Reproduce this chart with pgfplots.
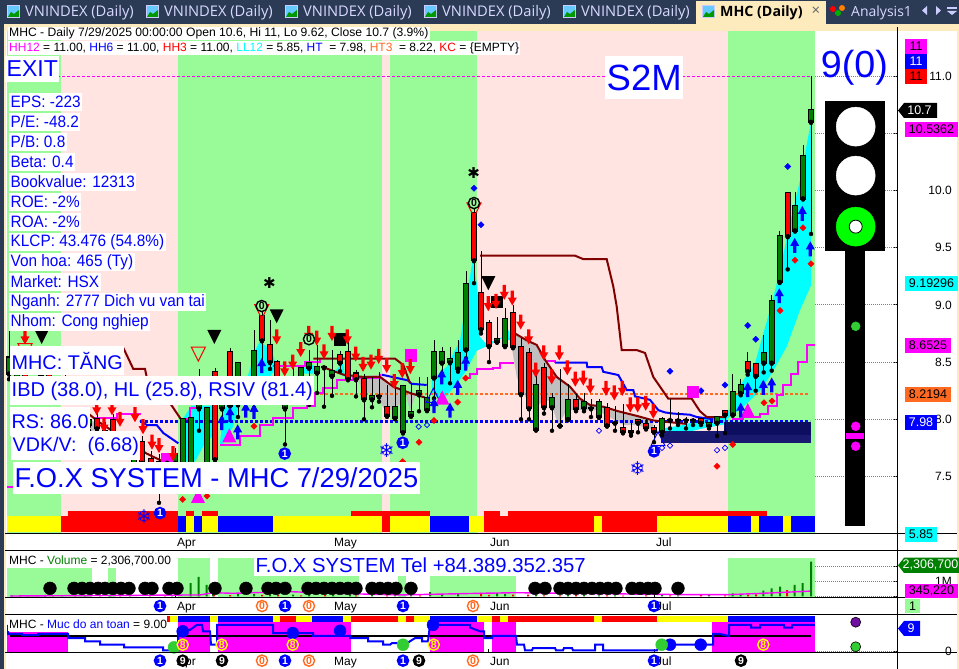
\documentclass[border=0pt]{standalone}
\usepackage{fontspec}
\setmainfont{Liberation Sans}
\newfontfamily\symf{DejaVu Sans}
\newfontfamily\tabf{Open Sans}
\usepackage{graphicx}
\usepackage{pgfplots}
\usepackage{pgfplotstable}
\pgfplotsset{compat=1.18}

\definecolor{cyan}{RGB}{0,255,255}
\definecolor{magenta}{RGB}{255,0,255}
\definecolor{yellow}{RGB}{255,255,0}
\definecolor{pgreen}{RGB}{152,251,152}
\definecolor{ppink}{RGB}{255,228,225}
\definecolor{tabnavy}{RGB}{43,58,85}
\definecolor{cream}{RGB}{253,235,190}
\definecolor{hotorange}{RGB}{255,106,32}
\definecolor{mar}{RGB}{128,0,0}
\definecolor{dnavy}{RGB}{25,25,112}
\definecolor{dnavy2}{RGB}{14,14,96}
\definecolor{cgreen}{RGB}{0,128,0}
\definecolor{lgreen}{RGB}{50,205,50}
\definecolor{purp}{RGB}{112,16,160}
\definecolor{graya}{RGB}{192,192,192}

\newcommand\fs[1]{\fontsize{#1}{#1}\selectfont}

% chart arrows and triangles
\pgfdeclareplotmark{adown}{%
  \pgfpathmoveto{\pgfqpoint{-1.6pt}{7.5pt}}\pgfpathlineto{\pgfqpoint{1.6pt}{7.5pt}}%
  \pgfpathlineto{\pgfqpoint{1.6pt}{0.5pt}}\pgfpathlineto{\pgfqpoint{4.5pt}{0.5pt}}%
  \pgfpathlineto{\pgfqpoint{0pt}{-7.5pt}}\pgfpathlineto{\pgfqpoint{-4.5pt}{0.5pt}}%
  \pgfpathlineto{\pgfqpoint{-1.6pt}{0.5pt}}\pgfpathclose\pgfusepathqfill}
\pgfdeclareplotmark{aup}{%
  \pgfpathmoveto{\pgfqpoint{-1.6pt}{-7.5pt}}\pgfpathlineto{\pgfqpoint{1.6pt}{-7.5pt}}%
  \pgfpathlineto{\pgfqpoint{1.6pt}{-0.5pt}}\pgfpathlineto{\pgfqpoint{4.5pt}{-0.5pt}}%
  \pgfpathlineto{\pgfqpoint{0pt}{7.5pt}}\pgfpathlineto{\pgfqpoint{-4.5pt}{-0.5pt}}%
  \pgfpathlineto{\pgfqpoint{-1.6pt}{-0.5pt}}\pgfpathclose\pgfusepathqfill}
\pgfdeclareplotmark{tdn}{%
  \pgfpathmoveto{\pgfqpoint{-7pt}{7pt}}\pgfpathlineto{\pgfqpoint{7pt}{7pt}}%
  \pgfpathlineto{\pgfqpoint{0pt}{-7pt}}\pgfpathclose\pgfusepathqfill}
\pgfdeclareplotmark{tdno}{%
  \pgfpathmoveto{\pgfqpoint{-7pt}{7pt}}\pgfpathlineto{\pgfqpoint{7pt}{7pt}}%
  \pgfpathlineto{\pgfqpoint{0pt}{-7pt}}\pgfpathclose\pgfusepathqstroke}
\pgfdeclareplotmark{tup}{%
  \pgfpathmoveto{\pgfqpoint{-7pt}{-7pt}}\pgfpathlineto{\pgfqpoint{7pt}{-7pt}}%
  \pgfpathlineto{\pgfqpoint{0pt}{7pt}}\pgfpathclose\pgfusepathqfill}
\pgfdeclareplotmark{tupo}{%
  \pgfpathmoveto{\pgfqpoint{-7pt}{-7pt}}\pgfpathlineto{\pgfqpoint{7pt}{-7pt}}%
  \pgfpathlineto{\pgfqpoint{0pt}{7pt}}\pgfpathclose\pgfusepathqstroke}

% x is the bar's place on the time axis, o h l c are prices
\pgfplotstableread{
x o h l c
9 8.40 8.77 8.35 8.54
17 8.30 8.50 8.20 8.42
41 8.35 8.52 8.28 8.38
65 8.32 8.40 8.20 8.36
89 7.95 8.10 7.90 7.99
105 7.88 7.98 7.85 7.90
134 7.60 7.68 7.58 7.65
175 7.62 7.75 7.60 7.70
182.7 7.60 8.00 7.55 8.00
191 7.60 8.01 7.55 8.01
199 8.095 8.44 7.90 8.125
207 7.60 8.10 7.55 8.10
222 8.095 8.30 8.00 8.125
238 8.13 8.49 8.02 8.49
246 8.20 8.36 8.10 8.30
254 8.15 8.78 8.10 8.60
285 8.095 8.28 7.78 8.125
293 8.25 8.45 8.20 8.30
301 8.30 8.46 8.20 8.445
309 8.45 8.605 8.125 8.49
317 8.407 8.65 8.23 8.454
324 8.454 8.46 8.11 8.454
332 8.38 8.605 8.205 8.425
372 8.175 8.37 8.105 8.20
379 8.20 8.416 8.154 8.20
395 8.01 8.31 8.01 8.105
403 7.885 8.29 7.885 8.29
411 8.03 8.315 8.03 8.06
419 8.218 8.37 8.07 8.245
427 8.08 8.367 8.08 8.19
434 8.364 8.69 8.183 8.585
442 8.495 8.63 8.40 8.585
450 8.498 8.635 8.315 8.524
458 8.442 8.69 8.416 8.576
466 8.61 9.30 8.533 9.18
497 8.68 8.89 8.67 8.70
505 8.64 8.97 8.64 8.88
536 7.91 8.40 7.91 8.30
552 8.105 8.23 7.90 8.19
560 7.945 8.44 7.945 7.945
568 8.00 8.31 8.00 8.17
584 8.096 8.23 8.07 8.154
591 8.096 8.18 8.02 8.096
599 8.02 8.18 8.02 8.15
615 7.97 8.12 7.90 7.97
662 7.89 8.02 7.86 8.00
670 7.994 8.18 7.92 7.994
678 7.99 8.06 7.95 7.99
686 7.99 8.02 7.92 7.99
693 7.99 8.01 7.95 7.99
709 7.94 7.98 7.92 7.97
717 7.97 8.03 7.855 8.02
732.7 8.04 8.395 8.04 8.235
740.7 8.23 8.35 8.21 8.30
763.7 8.495 8.74 8.41 8.58
771.7 8.495 9.09 8.425 9.03
779.7 9.20 9.65 9.20 9.60
795 9.65 9.986 9.65 9.86
803 9.93 10.40 9.93 10.30
811 10.60 11.00 9.62 10.70
}\upbars

\pgfplotstableread{
x o h l c
25 8.45 8.60 8.25 8.32
49 8.42 8.50 8.30 8.34
97 8.00 8.08 7.85 7.92
113 7.99 8.05 7.80 7.86
142 7.80 7.85 7.60 7.62
151 7.65 7.72 7.58 7.60
159 7.63 7.70 7.27 7.60
167 7.65 7.68 7.60 7.62
215 8.41 8.45 7.60 7.65
230 8.59 8.62 8.05 8.12
262 8.90 8.95 8.48 8.69
270 8.65 8.87 8.44 8.50
277 8.50 8.52 8.30 8.36
340 8.56 8.60 8.42 8.495
348 8.585 8.74 8.35 8.35
356 8.40 8.43 8.20 8.35
364 8.35 8.40 8.00 8.175
387 8.105 8.30 8.03 8.03
474 9.80 9.85 9.19 9.39
481 9.107 9.47 8.75 8.787
489 8.84 8.87 8.50 8.64
513 8.93 9.00 8.63 8.63
521 8.63 8.71 8.00 8.22
529 8.58 8.62 8.00 8.096
544 8.45 8.49 8.05 8.105
576 8.17 8.22 8.07 8.09
607 8.096 8.14 7.945 7.945
623 7.92 8.13 7.886 7.886
631 7.90 7.965 7.857 7.886
638 7.99 8.00 7.886 7.97
646 7.956 8.00 7.92 7.92
654 7.92 7.95 7.80 7.89
701 8.00 8.02 7.95 7.97
725 8.07 8.08 7.88 8.04
747.7 8.50 8.585 8.39 8.42
755.7 8.48 8.48 8.25 8.38
787.7 9.98 9.98 9.31 9.60
}\downbars

\pgfplotstableread{
x v
12 60000
28 50000
45 90000
62 40000
85 70000
110 60000
130 50000
172 80000
190.7 870000
198.7 1290000
206.7 760000
213 550000
238 180000
254 150000
270 130000
293 120000
309 150000
333 110000
350 130000
372 150000
395 180000
411 100000
430 280000
442 170000
458 190000
497 210000
505 150000
536 120000
568 90000
584 80000
599 70000
615 60000
662 90000
678 70000
709 110000
732.7 200000
740.7 130000
763.3 380000
771.7 530000
780 640000
794.7 760000
802.7 870000
811 2306700
}\volup

\pgfplotstableread{
x v
20 70000
37 50000
53 60000
75 50000
100 70000
120 40000
150 60000
165 40000
214 90000
230 80000
262 100000
278 90000
301 70000
325 80000
356 60000
387 70000
420 60000
481 230000
489 100000
513 120000
528 110000
544 70000
560 60000
576 110000
607 70000
623 50000
646 70000
670 60000
701 100000
725 60000
748 120000
756 130000
787 420000
}\voldown

\newcommand\zone[5]{\addplot[draw=none,fill=#1,forget plot] coordinates {(#2,#4)(#3,#4)(#3,#5)(#2,#5)} --cycle;}
\newcommand\area[2]{\addplot[draw=none,fill=#1,forget plot] coordinates {#2} --cycle;}
\newcommand\pts[2]{\addplot[only marks,forget plot,#1] coordinates {#2};}
\newcommand\numbered[5]{%
  \addplot[only marks,forget plot,mark=*,mark size=5.6pt,mark options={fill=#1,draw=#2,line width=1.4pt}] coordinates {#5};
  \addplot[only marks,forget plot,mark=text,text mark={#4},text mark as node=true,
    text mark style={font=\fs{10.5}\bfseries,text=#3,inner sep=0pt}] coordinates {#5};}
\newcommand\candles[2]{%
  \addplot[only marks,mark=none,forget plot,error bars/.cd,y dir=both,y explicit,error mark=none,
    error bar style={draw=black,line width=1pt}]
    table[x=x,y=l,y error plus expr=\thisrow{h}-\thisrow{l},y error minus expr=0] {#1};
  \addplot[only marks,mark=none,forget plot,error bars/.cd,y dir=both,y explicit,error mark=none,
    error bar style={draw=black,line width=5.6pt}]
    table[x=x,y expr={min(\thisrow{o},\thisrow{c})-0.009},y error plus expr={abs(\thisrow{c}-\thisrow{o})+0.018},y error minus expr=0] {#1};
  \addplot[only marks,mark=none,forget plot,error bars/.cd,y dir=both,y explicit,error mark=none,
    error bar style={draw=#2,line width=3.6pt}]
    table[x=x,y expr={min(\thisrow{o},\thisrow{c})},y error plus expr={abs(\thisrow{c}-\thisrow{o})},y error minus expr=0] {#1};}

\pgfplotsset{pane/.style={
  scale only axis,width=890pt,xmin=7,xmax=897,
  axis x line*=bottom,axis y line*=right,
  axis line style={line width=1pt,-},
  tick style={black,line width=0.8pt},major tick length=4pt,
  xtick={175,332,488,654},xticklabels={Apr,May,Jun,Jul},
  xticklabel style={font=\fs{12},anchor=north west,inner sep=0pt,xshift=2pt,yshift=-4pt},
  yticklabel style={font=\fs{12},anchor=east,inner sep=0pt,xshift=55pt},
  clip=false,unbounded coords=jump},
  dia/.style={mark=square*,mark size=2.2pt,mark options={rotate=45}},
  diao/.style={mark=square,mark size=1.9pt,mark options={rotate=45,line width=.7pt}}}

% white label with blue text, picture pixels
\newcommand\tb[5][white]{\node[anchor=west,fill=#1,text=blue,inner xsep=1.5pt,inner ysep=0pt,minimum height=#4pt,font=\fs{#5}] at (#2) {#3};}
\newcommand\rb[7]{\fill[#5] (#1,#2) rectangle (#3,#4);\node[text=#6,font=\fs{12.5},inner sep=0pt] at ({(#1+#3)/2},{(#2+#4)/2}) {#7};}
\newcommand\rba[7]{\fill[#5] (#1,{(#2+#4)/2}) -- (#1+6,#2) -- (#3,#2) -- (#3,#4) -- (#1+6,#4) -- cycle;\node[text=#6,font=\fs{12.5},inner sep=0pt] at ({(#1+#3)/2+2},{(#2+#4)/2}) {#7};}
\newcommand\tabicon[1]{\fill[white!80!blue] (#1,5) rectangle +(13,13);\fill[blue!35!cyan!60] (#1+1,6) rectangle +(11,11);\fill[green!60!black] (#1+1,17) -- (#1+4,12) -- (#1+7,14) -- (#1+12,10) -- (#1+12,17) -- cycle;}

\begin{document}
\begin{tikzpicture}
\useasboundingbox (0,0) rectangle (959pt,669pt);
\begin{scope}[x=1pt,y=-1pt,shift={(0pt,669pt)}]
  \fill[tabnavy] (0,0) rectangle (959,669);
  \fill[cream] (4,24) rectangle (959,669);
  \fill[white] (6,31) rectangle (957,669);
\end{scope}

%%% price pane
\begin{axis}[pane,at={(7pt,135pt)},anchor=south west,height=503pt,
  ymin=6.9974,ymax=11.394,
  ytick={7.5,8,8.5,9,9.5,10,10.5,11},
  yticklabels={7.5,8.0,8.5,9.0,9.5,10.0,10.5,11.0}]
  \addplot[forget plot,gray,line width=0.8pt,dash pattern=on 1pt off 1pt] coordinates
    {(815,7.5)(897,7.5)(897,nan)(815,8)(897,8)(897,nan)(815,8.5)(897,8.5)(897,nan)(815,9)(897,9)(897,nan)
     (815,9.5)(897,9.5)(897,nan)(815,10)(897,10)(897,nan)(815,10.5)(897,10.5)(897,nan)(815,11)(897,11)};
  % trend background
  \zone{pgreen}{7}{61}{6.9974}{11.394}
  \zone{ppink}{61}{178}{6.9974}{11.394}
  \zone{pgreen}{178}{382}{6.9974}{11.394}
  \zone{ppink}{382}{390}{6.9974}{11.394}
  \zone{pgreen}{390}{477}{6.9974}{11.394}
  \zone{ppink}{477}{728}{6.9974}{11.394}
  \zone{pgreen}{728}{815}{6.9974}{11.394}
  % ribbon, lower row
  \zone{yellow}{7}{61}{7.015}{7.155}
  \zone{red}{61}{178}{7.015}{7.155}
  \zone{blue}{178}{186}{7.015}{7.155}
  \zone{yellow}{186}{194}{7.015}{7.155}
  \zone{blue}{194}{202}{7.015}{7.155}
  \zone{yellow}{202}{218}{7.015}{7.155}
  \zone{blue}{218}{273}{7.015}{7.155}
  \zone{yellow}{273}{382}{7.015}{7.155}
  \zone{red}{382}{390}{7.015}{7.155}
  \zone{yellow}{390}{430}{7.015}{7.155}
  \zone{blue}{430}{469}{7.015}{7.155}
  \zone{yellow}{469}{484}{7.015}{7.155}
  \zone{red}{484}{594}{7.015}{7.155}
  \zone{yellow}{594}{602}{7.015}{7.155}
  \zone{red}{602}{657}{7.015}{7.155}
  \zone{yellow}{657}{728}{7.015}{7.155}
  \zone{blue}{728}{751}{7.015}{7.155}
  \zone{yellow}{751}{759}{7.015}{7.155}
  \zone{blue}{759}{783}{7.015}{7.155}
  \zone{yellow}{783}{791}{7.015}{7.155}
  \zone{blue}{791}{815}{7.015}{7.155}
  % ribbon, upper row
  \zone{red}{68}{178}{7.155}{7.198}
  \zone{red}{186}{194}{7.155}{7.198}
  \zone{red}{202}{218}{7.155}{7.198}
  \zone{red}{351}{430}{7.155}{7.198}
  \zone{red}{484}{500}{7.155}{7.198}
  \zone{red}{508}{767}{7.155}{7.198}
  % cyan clouds
  \area{cyan}{(723.3,7.99)(732.7,8.14)(743.3,8.34)(755,8.49)(771.7,9.01)(780,9.30)(788.3,9.65)(800,10.09)(811,10.60)(811,9.17)(800,8.955)(786.7,8.635)(771.7,8.40)(760,8.25)(743.3,8.11)(725,7.99)}
  \area{cyan}{(663,7.92)(683,7.95)(703,8.0)(727,8.02)(727,7.96)(703,7.92)(683,7.88)(663,7.86)}
  \area{cyan}{(431.7,8.34)(446.7,8.46)(460,8.69)(468.3,9.16)(472.7,9.39)(477.3,9.16)(480,8.72)(486,8.66)(503,8.72)(509,8.78)(510,8.69)(501.7,8.71)(490,8.65)(476.7,8.6)(470,8.49)(466.7,8.43)(456.7,8.31)(443.3,8.17)(432.3,8.21)}
  \area{cyan}{(181.7,7.99)(191.7,8.12)(213,8.12)(215,7.88)(203,7.76)(195,7.63)(181.7,7.63)}
  \area{cyan}{(220,7.79)(223.3,8.08)(248.3,8.39)(256.7,8.63)(260,8.68)(271.7,8.60)(276.7,8.46)(270,8.37)(248.3,8.28)(240,8.14)(233,7.935)(221.7,7.775)}
  \area{cyan}{(300,8.40)(308,8.49)(316.7,8.46)(313,8.40)}
  \area{cyan}{(335,8.42)(343,8.50)(345,8.37)}
  \area{cyan}{(406.7,8.20)(411.7,8.26)(410,8.08)}
  % gray clouds
  \area{graya}{(511.7,8.635)(515,8.75)(526.7,8.69)(536.7,8.65)(545,8.52)(556.7,8.37)(570,8.285)(580,8.18)(590,8.125)(603.3,8.11)(618.3,8.07)(636.7,8.03)(653.3,7.99)(653.3,7.91)(636.7,7.95)(623.3,7.95)(603.3,8.05)(596.7,8.08)(580,8.08)(566.7,8.08)(558.3,7.95)(550,8.17)(540,8.14)(535,8.08)(525,8.20)(516.7,8.37)}
  \area{graya}{(356.7,8.37)(380,8.39)(393.3,8.285)(410,8.23)(416.7,8.23)(410,8.08)(406.7,8.20)(393.3,8.08)(383.3,8.10)(376.7,8.23)(363.3,8.23)}
  \area{graya}{(88.3,8.01)(96.7,7.96)(96.7,7.90)(88.3,7.90)}
  % level lines
  \addplot[forget plot,magenta,line width=1pt,dash pattern=on 3pt off 2pt] coordinates {(57,11)(811,11)};
  \addplot[forget plot,hotorange,line width=2.2pt,dash pattern=on 3pt off 2pt] coordinates {(315,8.22)(808,8.22)};
  \addplot[forget plot,blue,line width=2.2pt,dash pattern=on 3pt off 2pt] coordinates {(140,7.98)(810,7.98)};
  % magenta stair lines
  \addplot[forget plot,magenta,line width=2pt,const plot] coordinates {(220,7.775)(240,7.85)(260,7.95)(273,8.01)(293,8.095)(306.7,8.12)(315,8.226)(323,8.27)(336.7,8.34)(353.3,8.36)(380,8.40)};
  \addplot[forget plot,magenta,line width=2pt,const plot] coordinates {(273.3,8.465)(290,8.47)(305,8.50)(320,8.53)};
  \addplot[forget plot,magenta,line width=2pt,const plot] coordinates {(465,8.36)(470,8.40)(476.7,8.44)(493.3,8.445)(500,8.495)(513.3,8.50)};
  \addplot[forget plot,magenta,line width=2pt,const plot] coordinates {(546.7,8.51)(555,8.495)};
  \addplot[forget plot,magenta,line width=2pt,const plot] coordinates {(731.7,8.0)(743,8.02)(760,8.05)(768,8.12)(776.7,8.21)(783.3,8.30)(790.7,8.395)(798.3,8.50)(806.7,8.65)(815,8.65)};
  \addplot[forget plot,magenta,line width=2pt,const plot] coordinates {(93.3,8.01)(116.7,8.05)(140,8.04)};
  \addplot[forget plot,magenta,line width=2pt,const plot] coordinates {(182,8.0)(190,8.1)(200,8.2)};
  \addplot[forget plot,magenta,line width=2pt] coordinates {(7,7.41)(13,7.41)};
  % blue step line
  \addplot[forget plot,blue,line width=2pt] coordinates {(555,8.495)(586.7,8.495)(587.3,8.455)(601.7,8.455)(603.3,8.415)(618.3,8.387)(626.7,8.256)(633.3,8.256)(635,8.20)(650,8.17)(658.3,8.08)(665,8.06)(673.3,8.05)(690,8.04)(696.7,8.02)(713.3,8.0)};
  \addplot[forget plot,blue,line width=2pt] coordinates {(140,7.99)(146.7,7.95)(156.7,7.95)(163.3,7.88)(171.7,7.83)(178.3,7.79)};
  \addplot[forget plot,blue,line width=2pt] coordinates {(381.7,8.39)(408,8.34)(411.7,8.31)(426.7,8.30)};
  % maroon lines
  \addplot[forget plot,mar,line width=2pt] coordinates {(480,9.43)(575,9.43)(583.3,9.40)(606.7,9.40)(613.3,9.16)(616.7,8.985)(621.7,8.605)(636.7,8.605)(645,8.58)(653.3,8.37)(668.3,8.18)(691.7,8.18)(700,8.07)(706.7,8.02)(725,8.02)};
  \addplot[forget plot,mar,line width=2pt] coordinates {(515,8.75)(526.7,8.69)(536.7,8.65)(545,8.52)(556.7,8.37)(570,8.285)(580,8.18)(590,8.125)(603.3,8.11)(618.3,8.07)(636.7,8.03)(653.3,7.99)(686,7.96)};
  \addplot[forget plot,mar,line width=2pt] coordinates {(313.3,8.53)(395,8.53)(403.3,8.475)(410,8.315)};
  \addplot[forget plot,mar,line width=2pt] coordinates {(321.7,8.46)(343.3,8.39)(363.3,8.37)(380,8.37)(393.3,8.285)(410,8.23)(425,8.19)};
  \addplot[forget plot,mar,line width=2pt] coordinates {(123,8.63)(133.3,8.44)(145,8.44)(146.7,8.37)(171.7,8.12)(181.7,7.99)};
  \addplot[forget plot,mar,line width=2pt] coordinates {(88.3,8.05)(98.3,7.98)(146.7,7.70)(163.3,7.63)};
  % small dots
  \pts{diao,blue}{(418.7,7.935)(427,7.95)(599,7.90)(662,7.75)(670,7.77)(717,7.73)(725,7.75)}
  \pts{mark=tupo,blue,mark options={line width=1pt}}{(433.3,8.21)(658,7.83)}
  % base boxes
  \zone{dnavy}{660.7}{811}{7.79}{7.895}
  \zone{dnavy2}{724}{811}{7.86}{7.98}
  \pts{dia,red}{(732.7,7.78)(717,7.59)(764,8.145)(772,8.16)(780,8.95)(795,9.39)(803,9.675)(811,9.36)(254,7.94)(434,7.99)(457.7,8.15)(465.7,8.36)(419,7.80)(402.7,7.63)(182.7,7.30)(207,7.33)}
  \pts{dia,blue}{(787.7,10.21)(747.7,8.82)(755.7,8.70)(725,8.30)(701,8.25)(670,8.42)(481,9.70)(474,10.02)}
  \pts{mark=tup,magenta}{(229.3,7.86)(442.3,8.19)(747.7,8.08)(198,7.33)}
  \pts{mark=square*,mark size=5.7pt,magenta}{(410.7,8.56)(692.7,8.24)(167,7.65)}
  \pts{mark=tdno,red,mark options={line width=1pt}}{(198.3,8.57)(261.7,8.94)(474,9.83)(25,8.60)}
  \pts{mark=square*,mark size=5.6pt,black}{(340,8.70)(496.7,9.03)}
  % candles
  \candles{\upbars}{cgreen}
  \candles{\downbars}{red}
  % signals
  \pts{mark=adown,red}{(276.7,8.72)(284.7,8.44)(292.7,8.50)(300.7,8.61)(308.7,8.75)(316.7,8.71)(324,8.59)(332,8.75)(347.3,8.72)(355.7,8.57)(363,8.48)(371,8.50)(378.7,8.55)(386.7,8.47)(394.3,8.33)(402.3,8.425)(410.3,8.46)(25,8.72)(96.7,8.10)(112,8.10)(104,7.95)(120,8.0)(135,8.04)(143,7.935)(152,7.80)(159,7.77)(173,7.70)(488.3,9.01)(496,9.03)(504.3,9.11)(512.3,9.06)(520.7,8.85)(528.7,8.72)(543.7,8.58)(559.3,8.58)(535.7,8.43)(551.7,8.37)(567.3,8.45)(575.3,8.35)(583.3,8.36)(590.3,8.29)(606,8.27)(614.3,8.23)(622.3,8.27)(630.3,8.125)(637.7,8.125)(645.7,8.14)(653.3,8.07)}
  \pts{mark=aup,blue}{(221.7,7.97)(230,8.04)(237.7,7.89)(245.7,8.08)(254,8.07)(261.7,8.47)(441.7,8.37)(457.7,8.28)(465.7,8.49)(434,8.12)(450,8.08)(740.7,8.08)(747.7,8.26)(763.3,8.28)(771.7,8.30)(779.3,9.08)(794.7,9.52)(802.3,9.80)(810.3,9.49)}
  \pts{mark=tdn,black}{(214.3,8.72)(276.7,8.90)(488.3,9.19)(41.7,8.72)}
  \numbered{pgreen}{black}{black}{0}{(261.7,8.99)(309,8.70)(474,9.89)}
  \numbered{blue}{blue}{white}{1}{(284.7,7.70)(402.7,7.795)(654,7.72)(160,7.18)}
  \addplot[only marks,forget plot,mark=text,text mark={\symf ❄},text mark as node=true,text mark style={font=\fs{19},text=blue,inner sep=0pt}] coordinates {(386.7,7.725)(637.7,7.57)(144,7.15)};
  \addplot[only marks,forget plot,mark=text,text mark={\symf ✱},text mark as node=true,text mark style={font=\fs{15},text=black,inner sep=0pt}] coordinates {(269.3,9.195)(473.7,10.15)};
  % traffic light
  \zone{black}{825}{885}{9.474}{10.782}
  \zone{black}{845}{865}{7.07}{9.474}
  \pts{mark=*,mark size=19.5pt,white,mark options={draw=none}}{(855.7,10.558)(855.7,10.13)}
  \pts{mark=*,mark size=19.5pt,green,mark options={draw=none}}{(855.7,9.684)}
  \pts{mark=*,mark size=6.5pt,mark options={fill=white,draw=black,line width=.8pt}}{(855.7,9.684)}
  \pts{mark=*,mark size=4.5pt,lgreen,mark options={draw=none}}{(855.7,8.813)}
  \pts{mark=*,mark size=4.5pt,magenta,mark options={draw=none}}{(855.7,7.939)(855.7,7.765)}
  \zone{magenta}{846}{864}{7.828}{7.88}
\end{axis}

%%% volume pane
\begin{axis}[pane,at={(7pt,71pt)},anchor=south west,height=46pt,
  ymin=-113000,ymax=2953000,scaled y ticks=false,
  ytick={0,1000000,2000000},yticklabels={,1M,}]
  \addplot[forget plot,gray,line width=0.8pt,dash pattern=on 1pt off 1pt] coordinates {(815,1000000)(897,1000000)(897,nan)(815,2000000)(897,2000000)(897,nan)(815,0)(897,0)};
  \zone{pgreen}{7}{92}{-113000}{1887000}
  \zone{pgreen}{108}{116}{-113000}{1887000}
  \zone{pgreen}{178}{210}{-113000}{2553000}
  \zone{pgreen}{218}{359}{-113000}{2553000}
  \zone{pgreen}{398}{406}{-113000}{1353000}
  \zone{pgreen}{430}{516}{-113000}{2553000}
  \zone{pgreen}{728}{815}{-113000}{2553000}
  \addplot[forget plot,ybar,bar shift=0pt,bar width=2pt,draw=none,fill=cgreen] table[x=x,y=v] {\volup};
  \addplot[forget plot,ybar,bar shift=0pt,bar width=2pt,draw=none,fill=red] table[x=x,y=v] {\voldown};
  \addplot[forget plot,magenta,line width=1.4pt] coordinates {(10,20000)(200,90000)(213,240000)(233,200000)(290,310000)(333,200000)(400,90000)(480,200000)(516,240000)(687,110000)(728,110000)(763,200000)(810,345220)};
  \pts{mark=*,mark size=6.4pt,black}{(50,533000)(74,533000)(82,533000)(90,533000)(98,533000)(105,533000)(113,533000)(121,533000)(129,533000)(145,533000)(152,533000)(169,533000)(177,533000)(215,533000)(246,533000)(268,533000)(276,533000)(285,533000)(308,533000)(316,533000)(324,533000)(332,533000)(340,533000)(348,533000)(356,533000)(372,533000)(380,533000)(388,533000)(396,533000)(411,533000)(535,533000)(545,533000)(560,533000)(568,533000)(576,533000)(584,533000)(592,533000)(600,533000)(608,533000)(616,533000)(632,533000)(640,533000)(648,533000)(655,533000)(678,533000)}
  \numbered{blue}{blue}{white}{1}{(160,-647000)(285,-647000)(403,-647000)(654,-647000)}
  \numbered{white}{hotorange}{hotorange}{0}{(262,-647000)(309,-647000)(473,-647000)}
\end{axis}

%%% safety level pane
\begin{axis}[pane,at={(7pt,16pt)},anchor=south west,height=37pt,
  ymin=-0.54,ymax=12,ytick={0},yticklabels={0}]
  \addplot[forget plot,gray,line width=0.8pt,dash pattern=on 1pt off 1pt] coordinates {(815,0)(897,0)};
  \zone{magenta}{7}{68}{-0.54}{6.63}
  \zone{magenta}{178}{210}{-0.54}{10}
  \zone{magenta}{218}{351}{-0.54}{10}
  \zone{magenta}{430}{484}{-0.54}{10}
  \zone{magenta}{492}{516}{-0.54}{10}
  \zone{magenta}{712}{815}{-0.54}{10}
  \zone{red}{167}{170}{10}{12}
  \zone{yellow}{170}{178}{10}{12}
  \zone{blue}{178}{210}{10}{12}
  \zone{yellow}{210}{218}{10}{12}
  \zone{blue}{218}{273}{10}{12}
  \zone{yellow}{273}{280}{10}{12}
  \zone{red}{280}{296}{10}{12}
  \zone{yellow}{296}{312}{10}{12}
  \zone{blue}{312}{343}{10}{12}
  \zone{yellow}{343}{351}{10}{12}
  \zone{red}{351}{398}{10}{12}
  \zone{yellow}{398}{406}{10}{12}
  \zone{red}{406}{414}{10}{12}
  \zone{yellow}{414}{430}{10}{12}
  \zone{blue}{430}{477}{10}{12}
  \zone{yellow}{477}{492}{10}{12}
  \zone{red}{492}{500}{10}{12}
  \zone{yellow}{500}{508}{10}{12}
  \zone{red}{508}{594}{10}{12}
  \zone{yellow}{594}{602}{10}{12}
  \zone{red}{602}{657}{10}{12}
  \zone{yellow}{657}{728}{10}{12}
  \zone{blue}{728}{815}{10}{12}
  \addplot[forget plot,black,line width=1.6pt] coordinates {(10,5.29)(811,5.29)};
  \addplot[forget plot,blue,line width=2pt] coordinates {(8,9)(8,5.9)(22,5.9)(22,5.5)(38,5.5)(38,5.9)(68,5.9)(68,4.5)(85,4.5)(85,3.4)(100,3.4)(100,2.27)(124,2.27)(124,1.37)(163,1.37)(163,.36)(178,.36)(178,7.3)(190,7.3)(197,9)(202,9)(203,6.8)(210,6.8)(211,2.27)(217,2.27)(217,9)(273,9)(273,6.2)(313,6.2)(313,5.3)(350,5.3)(350,4.5)(368,4.5)(368,3.4)(383,3.4)(383,2.27)(390,2.27)(392,2.8)(407,2.8)(415,4.5)(422,4.5)(422,3.4)(428,3.4)(430,9)(470,9)(470,8.1)(480,6.8)(484,6.8)(484,4.5)(492,4.5)(492,5.3)(516,5.3)(517,2.27)(524,2.27)(525,.36)(532,.36)(533,1.15)(555,1.15)(556,.36)(563,.36)(564,1.15)(572,1.15)(573,.36)(595,.36)(595,2.27)(603,2.27)(603,.36)(657,.36)(660,2.27)(713,2.27)(713,5.9)(720,5.9)(728,5.3)(729,5.3)(729,9)(751,9)(751,8.1)(760,8.1)(760,9)(784,9)(784,8.1)(792,8.1)(792,9)(815,9)};
  \pts{mark=*,mark size=6pt,blue}{(182.7,6.8)(292.7,6.2)(340,7)(433,9)(670,2.27)(700.7,2.27)}
  \pts{mark=*,mark size=6pt,lgreen}{(174,1.37)(403,2.27)(661.7,2.27)}
  \numbered{magenta}{yellow}{yellow}{8}{(182.7,2.27)(221.7,2.27)(292.7,2.27)(433.7,2.27)(763.3,2.27)}
  \pts{mark=*,mark size=5pt,mark options={fill=purp,draw=black,line width=.6pt}}{(855.7,9.9)}
  \pts{mark=*,mark size=5pt,mark options={fill=lgreen,draw=black,line width=.6pt}}{(855.7,1.58)}
  \numbered{blue}{blue}{white}{1}{(160,-3.13)(285,-3.13)(403,-3.13)(654,-3.13)}
  \numbered{black}{black}{white}{9}{(182.7,-3.13)(222,-3.13)(419,-3.13)(741,-3.13)}
  \numbered{white}{hotorange}{hotorange}{0}{(262,-3.13)(309,-3.13)(473,-3.13)}
\end{axis}

%%% window chrome and labels
\begin{scope}[x=1pt,y=-1pt,shift={(0pt,669pt)}]
  \foreach \yy in {534,551,598,615,653} \draw[black,line width=1pt] (5,\yy) -- (957,\yy);
  \draw[black,line width=1pt] (897,27) -- (897,669);
  % tabs
  \foreach \xx in {7,146,285,424,563} {
    \tabicon{\xx}
    \node[anchor=west,text=white!85!blue,font=\tabf\fs{14.7},inner sep=0pt] at (\xx+18,12.5) {VNINDEX (Daily)};
  }
  \fill[cream] (696,1) rectangle (826,26);
  \tabicon{702}
  \node[anchor=west,text=black,font=\tabf\fs{14.2}\bfseries,inner sep=0pt] at (720,12.5) {MHC (Daily)};
  \node[text=black!60,font=\tabf\fs{15}] at (816,11.5) {×};
  \fill[red] (833,9) circle (3pt);\fill[green!70!black] (838,13) circle (3pt);\fill[orange] (842,8) circle (3pt);
  \node[anchor=west,text=white!85!blue,font=\tabf\fs{14},inner sep=0pt] at (851,12.5) {Analysis1};
  \fill[white!80!blue] (922,10.5) -- (927,6) -- (927,15) -- cycle;
  \fill[white!80!blue] (941,10.5) -- (936,6) -- (936,15) -- cycle;
  \fill[white!80!blue] (947,7) rectangle (957,9);\fill[white!80!blue] (947,11) -- (957,11) -- (952,15) -- cycle;
  % legend lines
  \fill[white] (8,27) rectangle (430,40.5);
  \fill[white] (8,41) rectangle (520,55);
  \node[anchor=west,font=\fs{12.15},inner sep=0pt] at (9,33.5) {MHC - Daily 7/29/2025 00:00:00 Open 10.6, Hi 11, Lo 9.62, Close 10.7 (3.9\%)};
  \node[anchor=west,font=\fs{12},inner sep=0pt] at (9,48) {\textcolor{magenta}{HH12} = 11.00, \textcolor{blue}{HH6} = 11.00, \textcolor{red}{HH3} = 11.00, \textcolor{cyan}{LL12} = 5.85, \textcolor{blue}{HT}\ \ = 7.98, \textcolor{hotorange}{HT3}\ \ = 8.22, \textcolor{red}{KC} = \{EMPTY\}};
  % stats
  \tb{5,68.8}{EXIT}{25.7}{23}
  \foreach \yy/\tt in {102/{EPS: -223},122/{P/E: -48.2},142/{P/B: 0.8},162/{Beta: 0.4},182/{Bookvalue: 12313},202/{ROE: -2\%},222/{ROA: -2\%},242/{KLCP: 43.476 (54.8\%)},262/{Von hoa: 465 (Ty)},282/{Market: HSX},302/{Nganh: 2777 Dich vu van tai},322/{Nhom: Cong nghiep}}
    {\tb{9,\yy}{\scalebox{0.93}[1]{\tt}}{18}{16.5}}
  \tb{10,361}{MHC: TĂNG}{29}{19.8}
  \tb{10,391}{IBD (38.0), HL (25.8), RSIV (81.4)}{29}{20}
  \tb{10,421.7}{RS: 86.0}{29}{19.8}
  \tb{11,446}{VDK/V:\ \ (6.68)}{29}{19.7}
  \tb{13,478}{F.O.X SYSTEM - MHC 7/29/2025}{32}{27.3}
  \tb{605,77.5}{S2M}{43}{36.5}
  \node[text=blue,font=\fs{37.7},inner sep=0pt,anchor=west] at (820.7,68) {9(0)};
  \tb{254,565.5}{F.O.X SYSTEM Tel +84.389.352.357}{21}{20.3}
  \fill[white] (8,555) rectangle (173,567);
  \node[anchor=west,font=\fs{12},inner sep=0pt] at (9,560.7) {MHC - \textcolor{cgreen}{Volume} = 2,306,700.00};
  \fill[white] (8,618) rectangle (166,631);
  \node[anchor=west,font=\fs{12},inner sep=0pt] at (9,624.7) {MHC - \textcolor{blue}{Muc do an toan} = 9.00};
  % price tags
  \rb{905}{39.3}{927}{54}{magenta}{black}{11}
  \rb{905}{54}{927}{69}{blue}{white}{11}
  \rb{905}{69}{927}{84}{red}{black}{11}
  \rba{898}{103}{937}{118}{black}{white}{10.7}
  \rb{905}{122}{958}{137}{magenta}{black}{10.5362}
  \rb{905}{276}{958}{291}{cyan}{black}{9.19296}
  \rb{905}{338}{951}{353}{magenta}{black}{8.6525}
  \rb{905}{387}{951}{402}{hotorange}{black}{8.2194}
  \rb{905}{415}{937}{430}{blue}{white}{7.98}
  \rb{905}{527}{937}{542}{cyan}{black}{5.85}
  \rba{898}{557.7}{959}{573}{cgreen}{white}{2,306,700}
  \rb{905}{584}{958}{598}{magenta}{black}{345,220}
  \rb{905}{599}{920}{613}{pgreen}{black}{1}
  \rba{898}{621}{920}{636}{blue}{white}{9}
\end{scope}
\end{tikzpicture}
\end{document}
